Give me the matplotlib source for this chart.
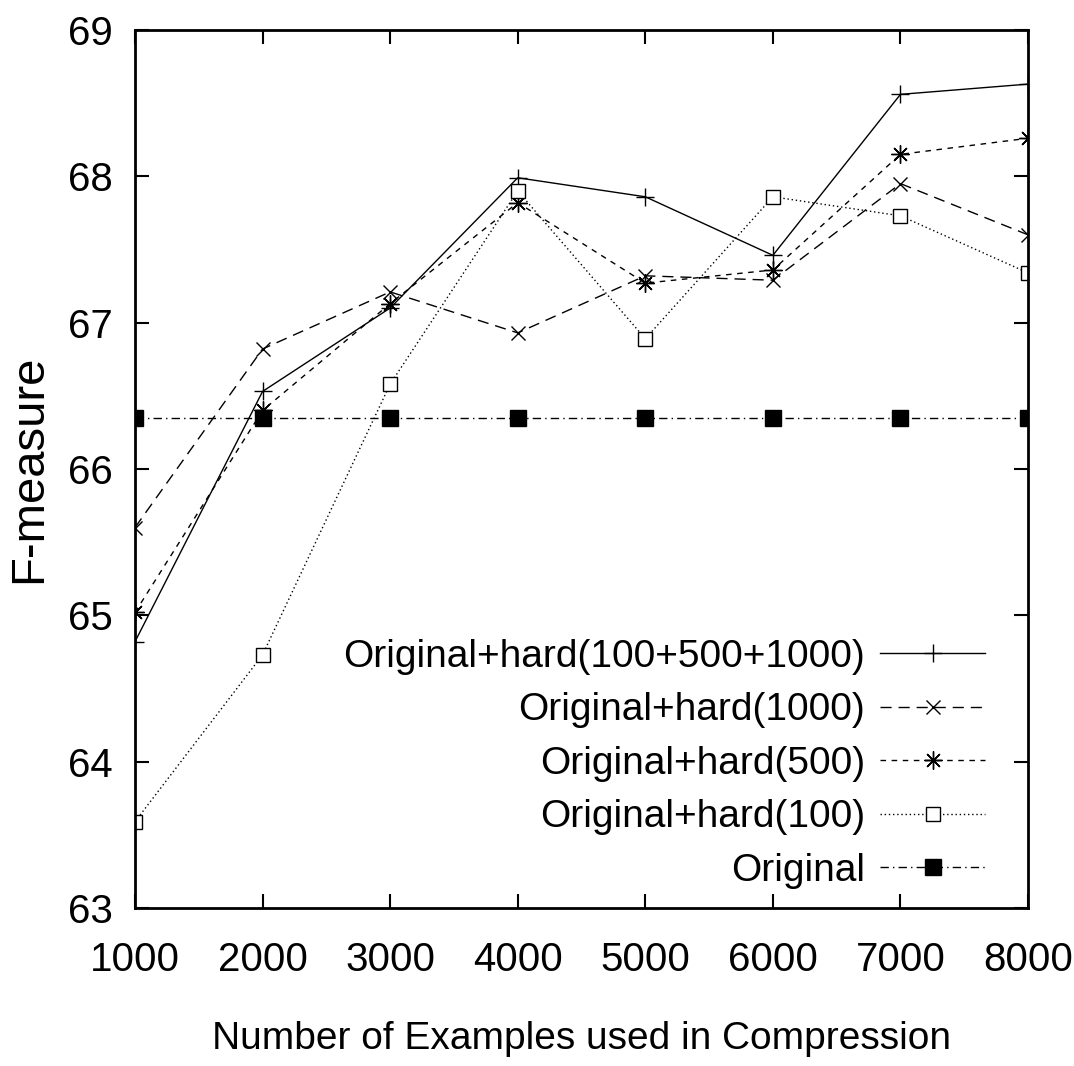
import matplotlib
matplotlib.use("Agg")
import matplotlib.pyplot as plt

plt.rcParams['font.family'] = ['Liberation Sans', 'DejaVu Sans']

examples = [1000, 2000, 3000, 4000, 5000, 6000, 7000, 8000]

# F-measure values
hard_all = [64.82, 66.53, 67.10, 67.99, 67.86, 67.46, 68.56, 68.63]
hard_1000 = [65.60, 66.82, 67.21, 66.93, 67.32, 67.29, 67.95, 67.60]
hard_500 = [65.02, 66.40, 67.13, 67.82, 67.27, 67.36, 68.15, 68.26]
hard_100 = [63.59, 64.73, 66.58, 67.90, 66.89, 67.86, 67.73, 67.34]
original = [66.35] * 8

labels = ['Original+hard(100+500+1000)', 'Original+hard(1000)',
          'Original+hard(500)', 'Original+hard(100)', 'Original']

fig = plt.figure(figsize=(10.74, 10.66), dpi=100)
ax = fig.add_axes([0.1257, 0.1482, 0.8315, 0.8237])

ax.plot(examples, hard_all, color='black', lw=1.0, ls='-',
        marker='+', ms=13, mew=1.0, label=labels[0])
ax.plot(examples, hard_1000, color='black', lw=1.0, ls=(0, (8, 5)),
        marker='x', ms=10, mew=1.0, label=labels[1])
ax.plot(examples, hard_500, color='black', lw=1.0, ls=(0, (4, 4)),
        marker=(8, 2, 0), ms=13, mew=1.0, label=labels[2])
ax.plot(examples, hard_100, color='black', lw=1.0, ls=(0, (1, 2)),
        marker='s', ms=10, mfc='white', mew=1.0, label=labels[3])
ax.plot(examples, original, color='black', lw=1.0, ls=(0, (6, 3, 1, 3)),
        marker='s', ms=11, mfc='black', label=labels[4])

ax.set_xlim(1000, 8000)
ax.set_ylim(63, 69)
ax.set_xticks(examples)
ax.set_yticks(range(63, 70))

ax.tick_params(direction='in', length=10, width=1.5, labelsize=29,
               top=True, right=True)
ax.tick_params(axis='x', pad=24)
ax.tick_params(axis='y', pad=16)
for s in ax.spines.values():
    s.set_linewidth(2)

ax.set_xlabel('Number of Examples used in Compression', fontsize=28, labelpad=30)
ax.set_ylabel('F-measure', fontsize=34, labelpad=12)

ax.legend(loc='lower right', bbox_to_anchor=(0.952, 0.022), frameon=False,
          markerfirst=False, fontsize=28, handlelength=2.7,
          handletextpad=0.39, labelspacing=0.45, borderaxespad=0,
          borderpad=0)

fig.savefig('out.png', dpi=100)
